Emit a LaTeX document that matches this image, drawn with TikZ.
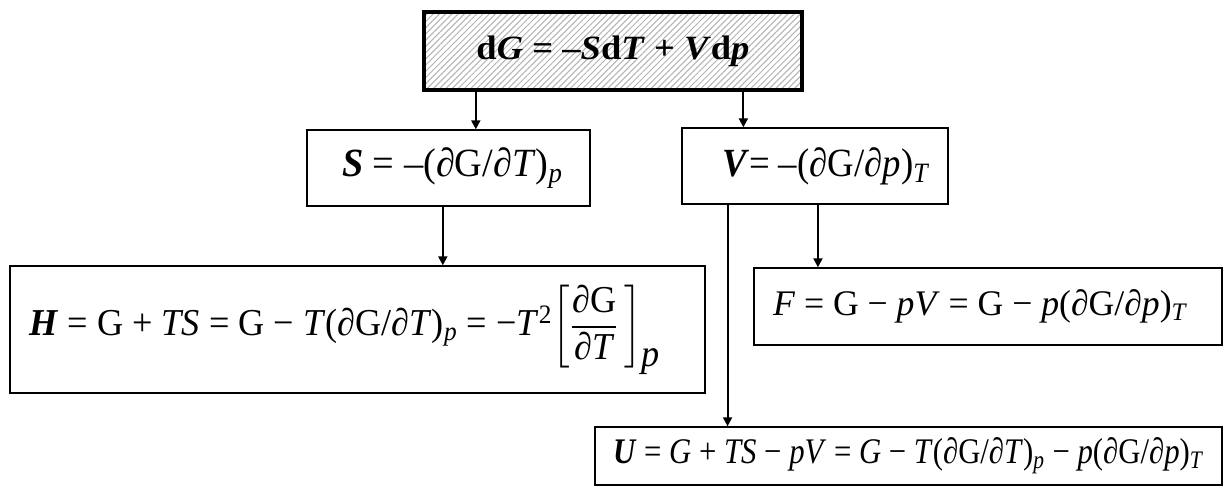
\documentclass[tikz,border=0pt]{standalone}
\usepackage{amsmath}
\usepackage{graphicx}
\usepackage{fontspec}
\setmainfont{Liberation Serif}
\usepackage{tikz}
\usetikzlibrary{arrows.meta, positioning, calc, patterns.meta}

% formula squeezed to a given width, height kept
\newcommand{\eqw}[2]{\resizebox{#1}{\height}{#2}}

\tikzset{
  formula/.style={draw, line width=0.7pt, inner sep=0pt, align=center},
  mainbox/.style={formula, line width=2pt,
    pattern={Lines[angle=45, distance=2.2pt, line width=0.5pt]}, pattern color=gray!60},
}

\begin{document}
\begin{tikzpicture}[x=0.5pt, y=-0.5pt, >={Triangle[length=4.5pt, width=4.5pt]}, line width=1pt]
        \useasboundingbox (0,0) rectangle (1224,497);
        % Gibbs energy differential
        \node[mainbox, minimum width=189pt, minimum height=39pt, font=\fontsize{17}{20}\selectfont] (dG) at (613,51)
            {\eqw{136.5pt}{\bfseries d\textit{G} = –\textit{S}d\textit{T} + \textit{V}d\textit{p}}};
        % Entropy and volume
        \node[formula, minimum width=141.5pt, minimum height=38pt, font=\fontsize{20}{24}\selectfont] (S) at (448.5,168)
            {\hspace{4pt}\eqw{110.5pt}{\textbf{\textit{S}} = –(∂G/∂\textit{T})\textsubscript{\textit{p}}}};
        \node[formula, minimum width=133pt, minimum height=38pt, font=\fontsize{20}{24}\selectfont] (V) at (815,166)
            {\hspace{11pt}\eqw{104pt}{\textbf{\textit{V}}= –(∂G/∂\textit{p})\textsubscript{\textit{T}}}};
        % Derived potentials
        \node[formula, minimum width=347.5pt, minimum height=63.5pt, font=\fontsize{19}{23}\selectfont] (H) at (357.5,329.5)
            {\eqw{315pt}{\textbf{\textit{H}} = G + \textit{TS} = G − \textit{T}(∂G/∂\textit{T})\textsubscript{\textit{p}}
             = −\textit{T}\textsuperscript{2}$\left[\dfrac{\text{∂G}}{\text{∂\textit{T}}}\,\right]$\raisebox{-0.8em}{\textit{p}}}\hspace{13pt}};
        \node[formula, minimum width=234pt, minimum height=38.5pt, font=\fontsize{18}{22}\selectfont] (F) at (988,306.5)
            {\eqw{207.5pt}{\textit{F} = G − \textit{pV} = G − \textit{p}(∂G/∂\textit{p})\textsubscript{\textit{T}}}\hspace{7.5pt}};
        \node[formula, minimum width=313.5pt, minimum height=29pt, font=\fontsize{18}{22}\selectfont] (U) at (908.5,456)
            {\eqw{295.5pt}{\textbf{\textit{U}} = \textit{G} + \textit{TS} − \textit{pV} = \textit{G} − \textit{T}(∂G/∂\textit{T})\textsubscript{\textit{p}}
             − \textit{p}(∂G/∂\textit{p})\textsubscript{\textit{T}}}};
        % Arrows
        \coordinate (gS) at ($(dG.south west)!0.138!(dG.south east)$);
        \coordinate (gV) at ($(dG.south west)!0.844!(dG.south east)$);
        \coordinate (sH) at ($(S.south west)!0.48!(S.south east)$);
        \coordinate (vU) at ($(V.south west)!0.173!(V.south east)$);
        \coordinate (vF) at ($(V.south west)!0.511!(V.south east)$);
        \draw[->] (gS) -- (gS |- S.north);
        \draw[->] (gV) -- (gV |- V.north);
        \draw[->] (sH) -- (sH |- H.north);
        \draw[->] (vF) -- (vF |- F.north);
        \draw[->] (vU) -- (vU |- U.north);
    \end{tikzpicture}
\end{document}
